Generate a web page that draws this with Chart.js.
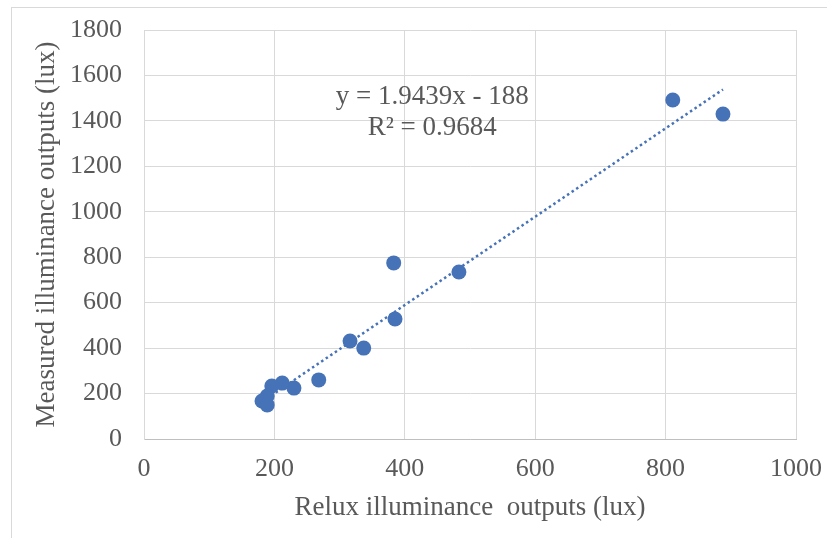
<!DOCTYPE html>
<html>
<head>
<meta charset="utf-8">
<script src="https://cdn.jsdelivr.net/npm/chart.js@4/dist/chart.umd.min.js"></script>
<style>
  html, body { margin: 0; padding: 0; background: #fff; }
  #wrap { width: 827px; height: 538px; }
</style>
</head>
<body>
<div id="wrap"><canvas id="scatter"></canvas></div>
<script>
// Data
const reluxLux = [811, 888, 383, 483, 385, 316, 337, 268, 230, 212, 196, 189, 181, 189];
const measuredLux = [1492, 1430, 775, 735, 528, 431, 400, 260, 224, 246, 233, 189, 167, 150];
const trendSlope = 1.9439;
const trendIntercept = -188;
const equationText = 'y = 1.9439x - 188';
const r2Text = 'R\u00b2 = 0.9684';
const xTitle = 'Relux illuminance  outputs (lux)';
const yTitle = 'Measured illuminance outputs (lux)';

const textColor = '#595959';
const gridColor = '#d9d9d9';
const pointColor = '#4672b8';
const serif = '"Liberation Serif", "DejaVu Serif", serif';

const points = reluxLux.map((x, i) => ({ x: x, y: measuredLux[i] }));
const xMin = Math.min(...reluxLux);
const xMax = Math.max(...reluxLux);
const trend = [xMin, xMax].map(x => ({ x: x, y: trendSlope * x + trendIntercept }));

// Outer chart frame + equation label
const framePlugin = {
    id: 'frame',
    beforeDraw(chart) {
        const ctx = chart.ctx;
        ctx.save();
        ctx.fillStyle = '#fff';
        ctx.fillRect(0, 0, chart.width, chart.height);
        ctx.strokeStyle = gridColor;
        ctx.lineWidth = 1;
        ctx.strokeRect(11.5, 7.5, chart.width + 20, chart.height + 20);
        ctx.restore();
    },
    afterDatasetsDraw(chart) {
        const ctx = chart.ctx;
        const xs = chart.scales.x, ys = chart.scales.y;
        const cx = xs.getPixelForValue(442);
        ctx.save();
        ctx.fillStyle = textColor;
        ctx.font = '27px ' + serif;
        ctx.textAlign = 'center';
        ctx.textBaseline = 'middle';
        ctx.fillText(equationText, cx, ys.getPixelForValue(1505));
        ctx.fillText(r2Text, cx, ys.getPixelForValue(1369));
        ctx.restore();
    }
};

new Chart(document.getElementById('scatter'), {
    type: 'scatter',
    data: {
        datasets: [
            {
                label: 'Measured',
                data: points,
                backgroundColor: pointColor,
                borderColor: pointColor,
                pointRadius: 7.5,
                pointHoverRadius: 7.5,
                borderWidth: 0
            },
            {
                label: 'Trend',
                type: 'line',
                data: trend,
                borderColor: pointColor,
                borderWidth: 2.5,
                borderDash: [2.5, 3],
                pointRadius: 0,
                fill: false
            }
        ]
    },
    plugins: [framePlugin],
    options: {
        responsive: true,
        maintainAspectRatio: false,
        animation: false,
        layout: { padding: { top: 30, right: 31, left: 22, bottom: 0 } },
        plugins: {
            legend: { display: false },
            tooltip: { enabled: false }
        },
        scales: {
            x: {
                type: 'linear',
                min: 0,
                max: 1000,
                afterFit: s => { s.height = 99; s.paddingLeft = 0; s.paddingRight = 0; },
                grid: { color: gridColor, drawTicks: false },
                border: { color: '#bfbfbf' },
                ticks: {
                    stepSize: 200,
                    padding: 15,
                    color: textColor,
                    font: { family: serif, size: 26 },
                    callback: v => String(v)
                },
                title: {
                    display: true,
                    text: xTitle,
                    color: textColor,
                    padding: { top: 0, bottom: 14 },
                    font: { family: serif, size: 27 }
                }
            },
            y: {
                min: 0,
                max: 1800,
                afterFit: s => { s.width = 122; s.paddingTop = 0; s.paddingBottom = 0; },
                grid: { color: gridColor, drawTicks: false },
                border: { color: gridColor },
                ticks: {
                    stepSize: 200,
                    padding: 22,
                    color: textColor,
                    font: { family: serif, size: 26 },
                    callback: v => String(v)
                },
                title: {
                    display: true,
                    text: yTitle,
                    color: textColor,
                    padding: { top: 9, bottom: 0 },
                    font: { family: serif, size: 27 }
                }
            }
        }
    }
});
</script>
</body>
</html>
